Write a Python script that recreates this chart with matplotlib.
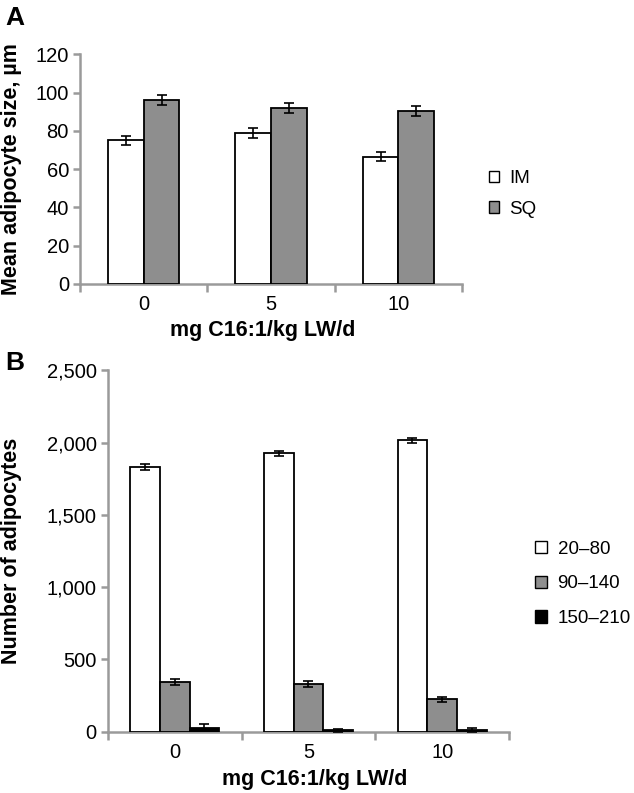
import numpy as np
import matplotlib.pyplot as plt
from matplotlib.patches import Patch
from matplotlib.transforms import blended_transform_factory

plt.rcParams['font.family'] = ['Liberation Sans', 'DejaVu Sans']

doses = ['0', '5', '10']

# panel A: mean adipocyte size
im_size = [75, 79, 66.5]
im_err = [2.5, 2.5, 2.5]
sq_size = [96, 92, 90.5]
sq_err = [2.5, 2.5, 2.5]

# panel B: number of adipocytes per size class
cls_labels = ['20\u201380', '90\u2013140', '150\u2013210']
n_20_80 = [1830, 1927, 2016]
e_20_80 = [22, 18, 18]
n_90_140 = [346, 330, 224]
e_90_140 = [20, 20, 18]
n_150_210 = [28, 10, 12]
e_150_210 = [25, 10, 12]

GRAY = '#8e8e8e'
AXC = '#9a9a9a'

fig = plt.figure(figsize=(6.34, 7.93), dpi=100)
axA = fig.add_axes([0.1262, 0.6419, 0.6025, 0.2896])
axB = fig.add_axes([0.1703, 0.0773, 0.6325, 0.4555])


def style(ax):
    for s in ['top', 'right']:
        ax.spines[s].set_visible(False)
    for s in ['left', 'bottom']:
        ax.spines[s].set_color(AXC)
        ax.spines[s].set_linewidth(1.8)
    ax.set_xlim(-0.5, 2.5)
    ax.set_xticks([-0.5, 0.5, 1.5, 2.5])
    ax.set_xticklabels([])
    ax.set_xticks([0, 1, 2], minor=True)
    ax.set_xticklabels(doses, minor=True)
    ax.tick_params(axis='x', which='major', length=6, width=1.8, color=AXC, direction='out')
    ax.tick_params(axis='x', which='minor', length=0, labelsize=14.5, pad=8)
    ax.tick_params(axis='y', length=5, width=1.8, color=AXC, labelsize=14.5, pad=3)
    ax.yaxis.set_label_coords(0.034, 0.5,
                              transform=blended_transform_factory(fig.transFigure, ax.transAxes))


x = np.arange(3)
ekw = dict(ecolor='black', elinewidth=1.2, capsize=3.5, capthick=1.2)

# panel A
w = 0.28
axA.bar(x - w / 2, im_size, w, color='white', edgecolor='black', linewidth=1.3,
        yerr=im_err, error_kw=ekw, zorder=3)
axA.bar(x + w / 2, sq_size, w, color=GRAY, edgecolor='black', linewidth=1.3,
        yerr=sq_err, error_kw=ekw, zorder=3)
style(axA)
axA.set_ylim(0, 120)
axA.set_yticks(range(0, 121, 20))
axA.set_ylabel('Mean adipocyte size, \u00b5m', fontsize=15.5, fontweight='bold')
axA.set_xlabel('mg C16:1/kg LW/d', fontsize=15.5, fontweight='bold')
axA.xaxis.set_label_coords(0.478, -0.158)

hA = [Patch(facecolor='white', edgecolor='black', linewidth=1.0, label='IM'),
      Patch(facecolor=GRAY, edgecolor='black', linewidth=1.0, label='SQ')]
fig.legend(handles=hA, loc='center left', bbox_to_anchor=(0.771, 0.7554), frameon=False,
           fontsize=13.5, handlelength=0.55, handleheight=0.55, handletextpad=0.55,
           labelspacing=0.72, borderpad=0, borderaxespad=0)

# panel B
w = 0.222
axB.bar(x - w, n_20_80, w, color='white', edgecolor='black', linewidth=1.3,
        yerr=e_20_80, error_kw=ekw, zorder=3)
axB.bar(x, n_90_140, w, color=GRAY, edgecolor='black', linewidth=1.3,
        yerr=e_90_140, error_kw=ekw, zorder=3)
axB.bar(x + w, n_150_210, w, color='black', edgecolor='black', linewidth=1.3,
        yerr=e_150_210, error_kw=ekw, zorder=3)
style(axB)
axB.set_ylim(0, 2500)
axB.set_yticks(range(0, 2501, 500))
axB.set_yticklabels(['0', '500', '1,000', '1,500', '2,000', '2,500'])
axB.set_ylabel('Number of adipocytes', fontsize=15.5, fontweight='bold')
axB.set_xlabel('mg C16:1/kg LW/d', fontsize=15.5, fontweight='bold')
axB.xaxis.set_label_coords(0.516, -0.104)

hB = [Patch(facecolor='white', edgecolor='black', linewidth=1.0, label=cls_labels[0]),
      Patch(facecolor=GRAY, edgecolor='black', linewidth=1.0, label=cls_labels[1]),
      Patch(facecolor='black', edgecolor='black', linewidth=1.0, label=cls_labels[2])]
fig.legend(handles=hB, loc='center left', bbox_to_anchor=(0.844, 0.2636), frameon=False,
           fontsize=13.5, handlelength=0.65, handleheight=0.65, handletextpad=0.55,
           labelspacing=0.95, borderpad=0, borderaxespad=0)

fig.text(0.008, 0.993, 'A', fontsize=19, fontweight='bold', va='top')
fig.text(0.008, 0.558, 'B', fontsize=19, fontweight='bold', va='top')

fig.savefig('out.png', dpi=100)
